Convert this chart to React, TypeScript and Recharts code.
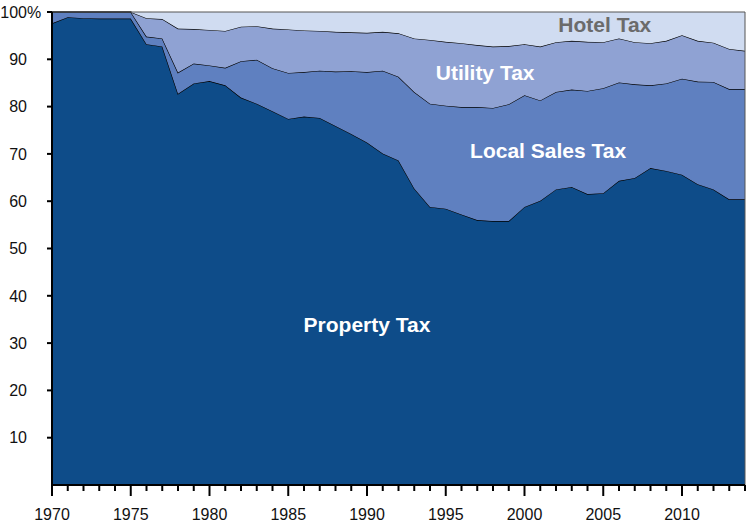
import { Area, AreaChart, ReferenceDot, ReferenceLine, XAxis, YAxis } from "recharts";

// Shares of total local tax revenue (%)
const years = [
  1970, 1971, 1972, 1973, 1974, 1975, 1976, 1977, 1978, 1979,
  1980, 1981, 1982, 1983, 1984, 1985, 1986, 1987, 1988, 1989,
  1990, 1991, 1992, 1993, 1994, 1995, 1996, 1997, 1998, 1999,
  2000, 2001, 2002, 2003, 2004, 2005, 2006, 2007, 2008, 2009,
  2010, 2011, 2012, 2013, 2014,
];

const propertyTax = [
  97.6, 98.9, 98.7, 98.6, 98.6, 98.6, 93.2, 92.7, 82.7, 84.9,
  85.4, 84.5, 81.9, 80.6, 79.0, 77.4, 77.9, 77.6, 75.9, 74.2,
  72.4, 70.1, 68.6, 62.7, 58.8, 58.4, 57.2, 56.0, 55.8, 55.8,
  58.8, 60.1, 62.5, 63.0, 61.5, 61.7, 64.3, 64.9, 67.0, 66.4,
  65.6, 63.6, 62.5, 60.4, 60.4,
];

const localSalesTax = [
  2.4, 1.1, 1.3, 1.4, 1.4, 1.4, 1.6, 1.7, 4.5, 4.2,
  3.3, 3.7, 7.7, 9.3, 9.1, 9.7, 9.4, 10.0, 11.5, 13.3,
  14.9, 17.5, 17.7, 20.4, 21.8, 21.8, 22.7, 23.9, 23.9, 24.7,
  23.6, 21.2, 20.6, 20.6, 21.8, 22.2, 20.8, 19.8, 17.5, 18.5,
  20.3, 21.7, 22.7, 23.3, 23.3,
];

const utilityTax = [
  0, 0, 0, 0, 0, 0, 3.9, 4.1, 9.3, 7.3,
  7.5, 7.8, 7.3, 7.1, 8.4, 9.2, 8.8, 8.4, 8.4, 8.2,
  8.3, 8.2, 9.2, 11.3, 13.5, 13.5, 13.5, 13.1, 13.0, 12.3,
  10.8, 11.4, 10.5, 10.3, 10.4, 9.7, 9.3, 8.9, 8.9, 9.0,
  9.2, 8.6, 8.3, 8.5, 8.1,
];

const hotelTax = [
  0, 0, 0, 0, 0, 0, 1.3, 1.5, 3.5, 3.6,
  3.8, 4.0, 3.1, 3.0, 3.5, 3.7, 3.9, 4.0, 4.2, 4.3,
  4.4, 4.2, 4.5, 5.6, 5.9, 6.3, 6.6, 7.0, 7.3, 7.2,
  6.8, 7.3, 6.4, 6.1, 6.3, 6.4, 5.6, 6.4, 6.6, 6.1,
  4.9, 6.1, 6.5, 7.8, 8.2,
];

const yTicks = [10, 20, 30, 40, 50, 60, 70, 80, 90, 100];

const data = years.map((year, i) => ({
  year,
  property: propertyTax[i],
  sales: localSalesTax[i],
  utility: utilityTax[i],
  hotel: hotelTax[i],
}));

const FONT = "'Liberation Sans', Arial, Helvetica, sans-serif";

function YearTick({ x, y, payload }: any) {
  const major = payload.value % 5 === 0;
  return (
    <g>
      <line x1={x} x2={x} y1={y} y2={y + (major ? 11 : 6)} stroke="#000" strokeWidth={2} />
      {major && (
        <text x={x} y={y + 35} textAnchor="middle" fontSize={16} fill="#111" fontFamily={FONT}>
          {payload.value}
        </text>
      )}
    </g>
  );
}

function PctTick({ x, y, payload }: any) {
  const tx = x - 25;
  return (
    <g>
      <line x1={x - 5} x2={x} y1={y} y2={y} stroke="#000" strokeWidth={2} />
      <text x={tx} y={y} dy="0.36em" textAnchor="end" fontSize={16} fill="#111" fontFamily={FONT}>
        {payload.value}
      </text>
      {payload.value === 100 && (
        <text x={tx} y={y} dy="0.36em" textAnchor="start" fontSize={16} fill="#111" fontFamily={FONT}>
          %
        </text>
      )}
    </g>
  );
}

const labelStyle = { position: "center" as const, fontSize: 21, fontWeight: "bold", fontFamily: FONT };

export default function App() {
  return (
    <div style={{ position: "absolute", left: 0, top: 0, background: "#fff" }}>
      <AreaChart
        width={747}
        height={525}
        data={data}
        margin={{ top: 12, right: 2, left: 0, bottom: 0 }}
        style={{ fontFamily: FONT }}
      >
        <XAxis
          dataKey="year"
          type="number"
          domain={[1970, 2014]}
          ticks={years}
          interval={0}
          height={40}
          tickSize={0}
          tickMargin={0}
          tickLine={false}
          axisLine={{ stroke: "#000", strokeWidth: 2 }}
          tick={<YearTick />}
        />
        <YAxis
          type="number"
          domain={[0, 100]}
          ticks={yTicks}
          interval={0}
          width={52}
          tickSize={0}
          tickMargin={0}
          tickLine={false}
          axisLine={{ stroke: "#000", strokeWidth: 2 }}
          tick={<PctTick />}
        />
        <Area
          type="linear"
          dataKey="property"
          stackId="1"
          stroke="#000"
          strokeWidth={1.2}
          fill="#0e4c89"
          fillOpacity={1}
          activeDot={false}
          isAnimationActive={false}
        />
        <Area
          type="linear"
          dataKey="sales"
          stackId="1"
          stroke="#000"
          strokeWidth={1.2}
          fill="#5f80c0"
          fillOpacity={1}
          activeDot={false}
          isAnimationActive={false}
        />
        <Area
          type="linear"
          dataKey="utility"
          stackId="1"
          stroke="#000"
          strokeWidth={1.2}
          fill="#8fa2d3"
          fillOpacity={1}
          activeDot={false}
          isAnimationActive={false}
        />
        <Area
          type="linear"
          dataKey="hotel"
          stackId="1"
          stroke="none"
          fill="#d0dcf1"
          fillOpacity={1}
          activeDot={false}
          isAnimationActive={false}
        />
        <ReferenceLine y={100} stroke="#555" strokeWidth={1} />
        <ReferenceLine x={2014} stroke="#555" strokeWidth={1} />
        <ReferenceDot x={2005.1} y={97.4} r={0} stroke="none" fill="none"
          label={{ ...labelStyle, value: "Hotel Tax", fill: "#6b6b6b" }} />
        <ReferenceDot x={1997.5} y={87.1} r={0} stroke="none" fill="none"
          label={{ ...labelStyle, value: "Utility Tax", fill: "#fff" }} />
        <ReferenceDot x={2001.5} y={70.8} r={0} stroke="none" fill="none"
          label={{ ...labelStyle, value: "Local Sales Tax", fill: "#fff" }} />
        <ReferenceDot x={1990} y={34} r={0} stroke="none" fill="none"
          label={{ ...labelStyle, value: "Property Tax", fill: "#fff" }} />
      </AreaChart>
    </div>
  );
}
